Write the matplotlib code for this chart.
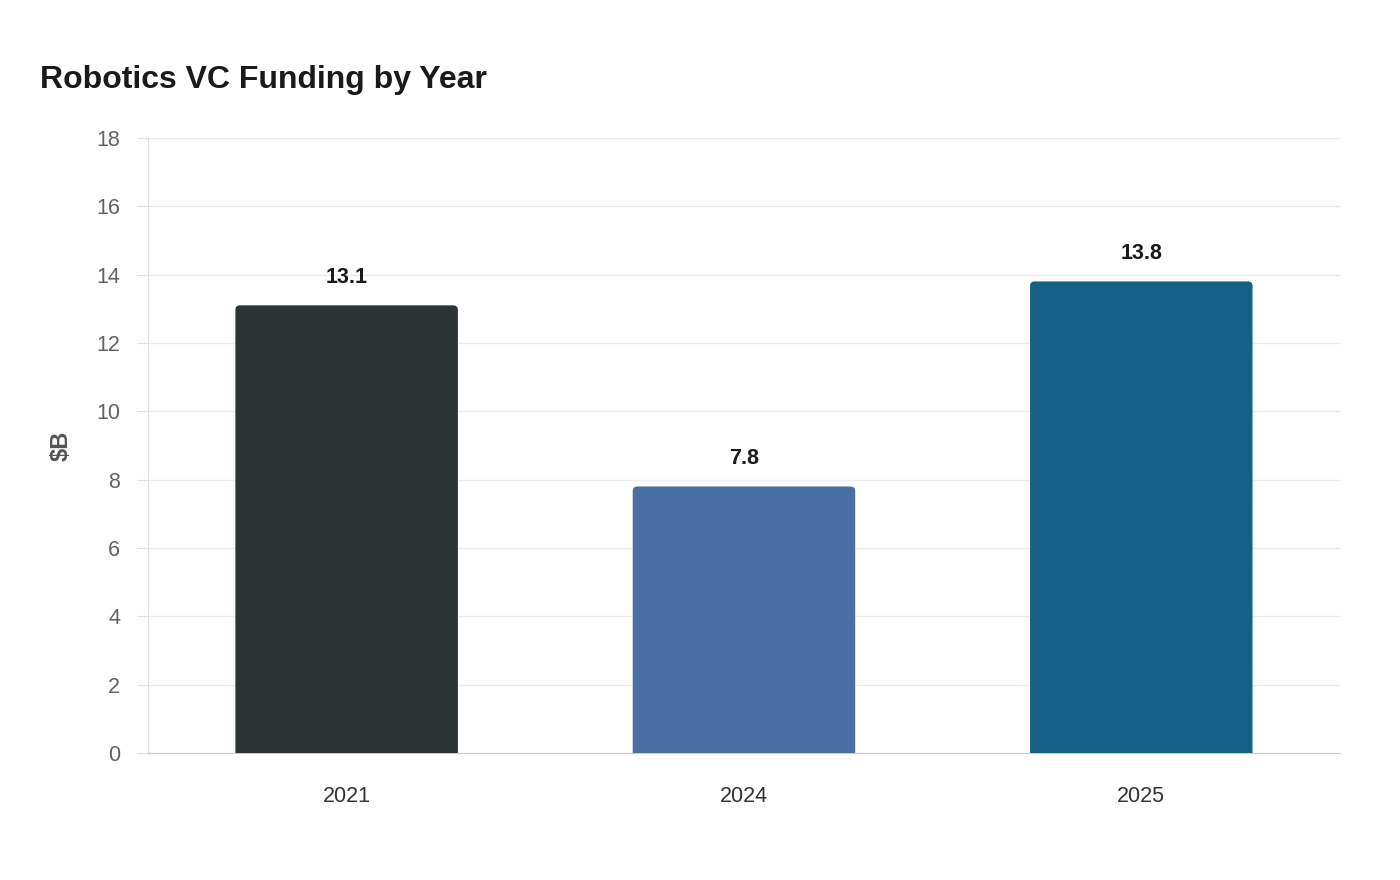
import matplotlib.pyplot as plt
from matplotlib.patches import FancyBboxPatch

# data
years = ['2021', '2024', '2025']
funding = [13.1, 7.8, 13.8]
bar_colors = ['#2d3436', '#4a6fa5', '#176087']

plt.rcParams['font.family'] = ['Liberation Sans', 'DejaVu Sans']

fig = plt.figure(figsize=(14, 8.8), dpi=100)
ax = fig.add_axes([0.1057, 0.1443, 0.8514, 0.699])

bars = ax.bar(range(len(years)), funding, width=0.56, color=bar_colors, zorder=3)

# swap the plain bars for ones with rounded top corners
# (box starts below 0 so the bottom corners get clipped off)
for b in bars:
    x = b.get_x()
    w, h = b.get_width(), b.get_height()
    rounded = FancyBboxPatch((x, -0.5), w, h + 0.5,
                             boxstyle="round,pad=0,rounding_size=0.012",
                             mutation_aspect=11.0,
                             facecolor=b.get_facecolor(), edgecolor='none',
                             zorder=3, clip_on=True)
    b.remove()
    ax.add_patch(rounded)

for i, v in enumerate(funding):
    ax.text(i, v + 0.5, f'{v}', ha='center', va='bottom',
            fontsize=15.5, fontweight='bold', color='#1a1a1a')

ax.set_xlim(-0.5, 2.5)
ax.set_ylim(0, 18)
ax.set_yticks(range(0, 19, 2))
ax.set_xticks(range(len(years)))
ax.set_xticklabels(years)
ax.tick_params(axis='x', length=0, pad=24, labelsize=15.5, labelcolor='#333333')
ax.tick_params(axis='y', length=8, width=0.8, color='#e0e0e0', pad=12,
               labelsize=15.5, labelcolor='#5f6368')

ax.grid(axis='y', color='#ebebeb', linewidth=1, zorder=0)
ax.set_axisbelow(True)
for s in ['top', 'right']:
    ax.spines[s].set_visible(False)
ax.spines['left'].set_color('#e0e0e0')
ax.spines['bottom'].set_color('#cccccc')

ax.set_ylabel('$B', fontsize=17, fontweight='bold', color='#555555', labelpad=17)

fig.text(40 / 1400, 1 - 80 / 880, 'Robotics VC Funding by Year', fontsize=23,
         fontweight='bold', color='#1a1a1a', va='center', ha='left')

plt.savefig('out.png', dpi=100)
